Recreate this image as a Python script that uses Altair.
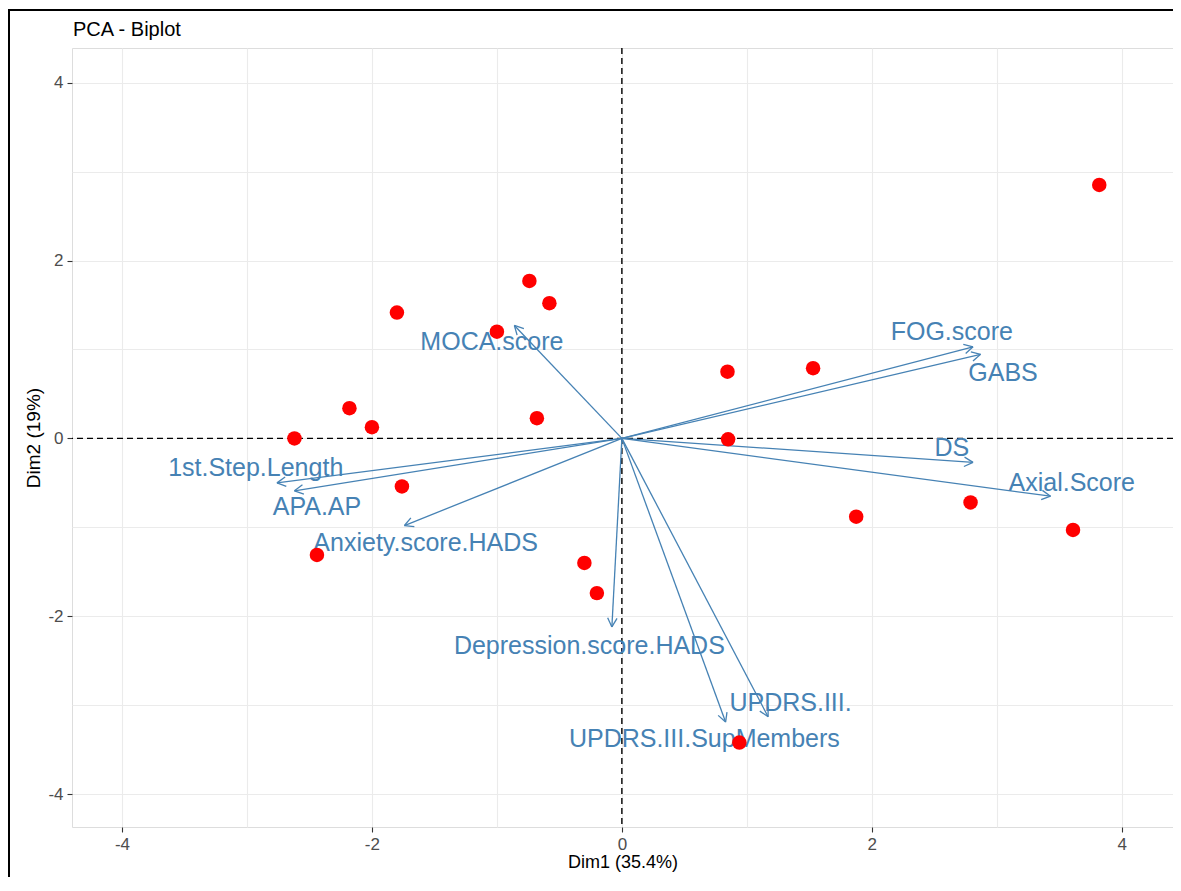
import math
import altair as alt
import pandas as pd

# ---- data ----
ind_x = [-0.74, -0.58, -1.80, -1.00, -2.18, -2.00, -2.62, -0.68, -1.76, -2.44,
         -0.30, -0.20, 0.94, 0.845, 1.53, 0.85, 1.875, 2.79, 3.61, 3.82]
ind_y = [1.77, 1.52, 1.415, 1.20, 0.34, 0.126, 0.0, 0.227, -0.54, -1.31,
         -1.40, -1.74, -3.42, 0.75, 0.79, -0.01, -0.88, -0.72, -1.03, 2.85]

var_names = ["1st.Step.Length", "APA.AP", "Anxiety.score.HADS", "MOCA.score",
             "FOG.score", "GABS", "DS", "Axial.Score", "Depression.score.HADS",
             "UPDRS.III.", "UPDRS.III.SupMembers"]
var_x = [-2.76, -2.62, -1.74, -0.86, 2.81, 2.87, 2.81, 3.43, -0.08, 1.17, 0.83]
var_y = [-0.50, -0.59, -0.98, 1.27, 1.03, 0.945, -0.27, -0.65, -2.12, -3.13, -3.19]
label_x = [-2.93, -2.44, -1.57, -1.04, 2.64, 3.05, 2.64, 3.60, -0.26, 1.35, 0.66]
label_y = [-0.335, -0.77, -1.18, 1.08, 1.20, 0.74, -0.11, -0.50, -2.33, -2.97, -3.38]

x_ticks = [-4, -3, -2, -1, 0, 1, 2, 3, 4]
y_ticks = [-4, -3, -2, -1, 0, 1, 2, 3, 4]

title_text = "PCA - Biplot"
x_title = "Dim1 (35.4%)"
y_title = "Dim2 (19%)"

# ---- layout ----
W, H = 1101, 779
XMIN, XMAX = -4.4, 4.41
YMIN, YMAX = -4.37, 4.39
FONT = "Liberation Sans"
ARROW = "#4682B4"

sx = W / (XMAX - XMIN)
sy = H / (YMAX - YMIN)

ind_df = pd.DataFrame({"x": ind_x, "y": ind_y})
var_df = pd.DataFrame({"name": var_names, "x0": 0.0, "y0": 0.0,
                       "x": var_x, "y": var_y, "lx": label_x, "ly": label_y})

# arrowheads (open V, ~10px long) computed from the tips
heads = []
for nx, ny in zip(var_x, var_y):
    px, py = nx * sx, -ny * sy
    L = math.hypot(px, py)
    ux, uy = -px / L, -py / L
    for a in (math.radians(28), math.radians(-28)):
        bx = ux * math.cos(a) - uy * math.sin(a)
        by = ux * math.sin(a) + uy * math.cos(a)
        heads.append({"x": nx, "y": ny,
                      "x2": nx + 10 * bx / sx, "y2": ny - 10 * by / sy})
head_df = pd.DataFrame(heads)

odd = "datum.value % 2 !== 0"
lab = "datum.value % 2 === 0 ? '' + datum.value : ''"
xscale = alt.Scale(domain=[XMIN, XMAX], nice=False, zero=False)
yscale = alt.Scale(domain=[YMIN, YMAX], nice=False, zero=False)

x_axis = alt.Axis(values=x_ticks, title=x_title, grid=True, gridColor="#EBEBEB",
                  gridWidth=1.1, domain=False, tickSize=5, tickWidth=1.1,
                  tickColor={"condition": {"test": odd, "value": "transparent"}, "value": "#333333"},
                  labelExpr=lab,
                  labelFont=FONT, labelFontSize=17, labelColor="#4D4D4D",
                  labelPadding=4, labelFlush=False, labelOverlap=False,
                  titleFont=FONT, titleFontSize=18, titleFontWeight="normal",
                  titleColor="black", titlePadding=1)
y_axis = alt.Axis(values=y_ticks, title=y_title, grid=True, gridColor="#EBEBEB",
                  gridWidth=1.1, domain=False, tickSize=5, tickWidth=1.1,
                  tickColor={"condition": {"test": odd, "value": "transparent"}, "value": "#333333"},
                  labelExpr=lab,
                  labelFont=FONT, labelFontSize=17, labelColor="#4D4D4D",
                  labelPadding=4, labelFlush=False, labelOverlap=False,
                  titleFont=FONT, titleFontSize=19, titleFontWeight="normal",
                  titleColor="black", titlePadding=4)

base_pts = alt.Chart(ind_df).mark_circle(size=210, color="#FF0000", opacity=1).encode(
    x=alt.X("x:Q", scale=xscale, axis=x_axis),
    y=alt.Y("y:Q", scale=yscale, axis=y_axis),
)

zero_df = pd.DataFrame({"v": [0.0]})
vline = alt.Chart(zero_df).mark_rule(color="black", strokeDash=[6, 4], strokeWidth=1.4).encode(
    x=alt.X("v:Q", scale=xscale))
hline = alt.Chart(zero_df).mark_rule(color="black", strokeDash=[6, 4], strokeWidth=1.4).encode(
    y=alt.Y("v:Q", scale=yscale))

shafts = alt.Chart(var_df).mark_rule(color=ARROW, strokeWidth=1.3).encode(
    x=alt.X("x0:Q", scale=xscale), y=alt.Y("y0:Q", scale=yscale),
    x2="x:Q", y2="y:Q")
heads_layer = alt.Chart(head_df).mark_rule(color=ARROW, strokeWidth=1.3).encode(
    x=alt.X("x:Q", scale=xscale), y=alt.Y("y:Q", scale=yscale),
    x2="x2:Q", y2="y2:Q")
labels = alt.Chart(var_df).mark_text(font=FONT, fontSize=25, color=ARROW,
                                     align="center", baseline="middle").encode(
    x=alt.X("lx:Q", scale=xscale), y=alt.Y("ly:Q", scale=yscale), text="name:N")

title_df = pd.DataFrame({"t": [title_text]})
title_mark = alt.Chart(title_df).mark_text(font=FONT, fontSize=20, color="black",
                                           align="left", baseline="alphabetic").encode(
    x=alt.value(1), y=alt.value(-12), text="t:N")

frame_df = pd.DataFrame({"k": [0]})
frame_left = alt.Chart(frame_df).mark_rule(color="black", strokeWidth=2).encode(
    x=alt.value(-63), y=alt.value(-38), y2=alt.value(840))
frame_top = alt.Chart(frame_df).mark_rule(color="black", strokeWidth=2).encode(
    x=alt.value(-64), x2=alt.value(1120), y=alt.value(-38))

chart = alt.layer(
    base_pts.mark_circle(opacity=0), vline, hline, shafts, heads_layer, labels,
    base_pts, title_mark, frame_left, frame_top
).properties(
    width=W, height=H,
    autosize=alt.AutoSizeParams(type="none"),
    padding={"left": 64, "top": 40, "right": 0, "bottom": 50},
).configure_view(stroke=None).configure(background="white")

chart.save("out.html", embed_options={"renderer": "svg", "actions": False})
